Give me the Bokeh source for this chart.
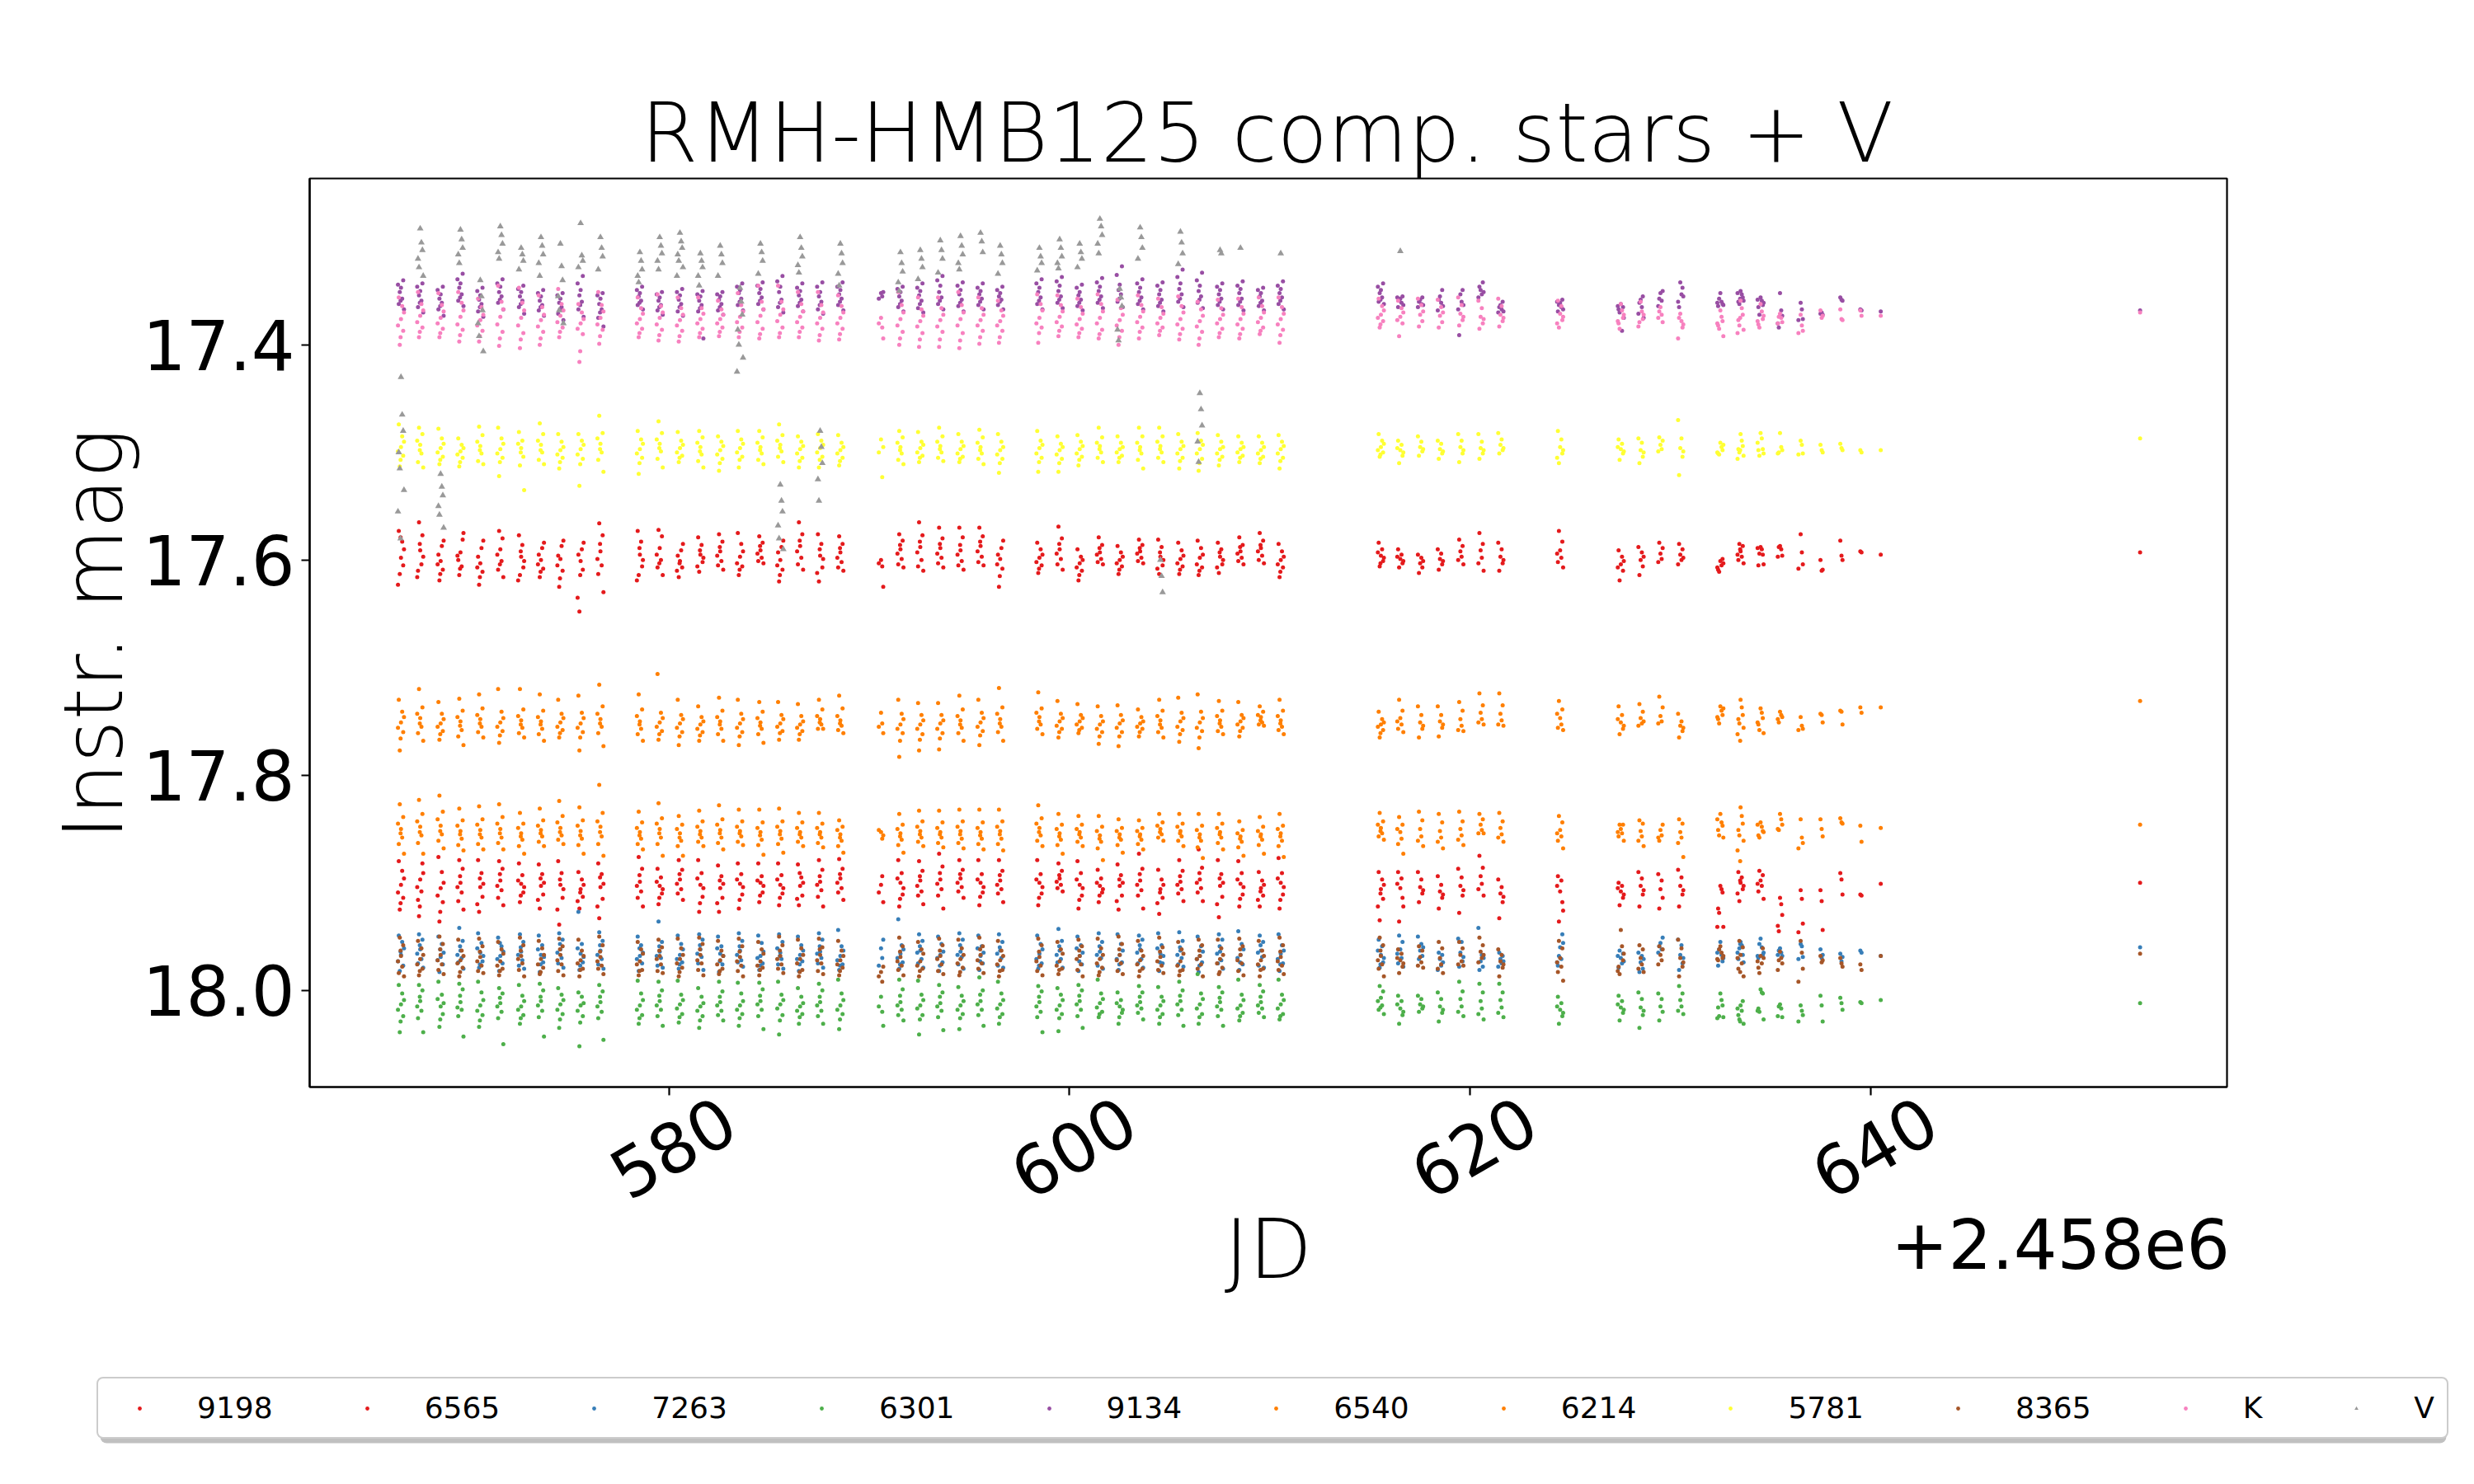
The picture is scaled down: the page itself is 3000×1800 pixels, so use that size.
import math
from bokeh.plotting import figure
from bokeh.models import (Range1d, FixedTicker, Legend, LegendItem, LinearAxis, BoxAnnotation,
                          PrintfTickFormatter, CustomJSTickFormatter)
from bokeh.embed import file_html
from bokeh.resources import INLINE

# ======================= DATA =======================
TITLE = "RMH-HMB125 comp. stars + V"
X_LABEL = "JD"
Y_LABEL = "Instr. mag"
JD_OFFSET_TEXT = "+2.458e6"          # x values below are JD - 2458000
X_TICKS = [580, 600, 620, 640]
Y_TICKS = [17.4, 17.6, 17.8, 18.0]

# observing nights (JD - 2458000, middle of the night's run)
NIGHT_JD = [
    566.62, 567.58, 568.60, 569.59, 570.58, 571.58, 572.62, 573.61, 574.58, 575.59, 576.58,
    578.55, 579.54, 580.55, 581.57, 582.56, 583.55, 584.57, 585.56, 586.55, 587.55, 588.56,
    590.59, 591.56, 592.55, 593.55, 594.56, 595.56, 596.54,
    598.50, 599.51, 600.51, 601.52, 602.51, 603.53, 604.54, 605.54, 606.51, 607.52, 608.54, 609.56, 610.55,
    615.55, 616.52, 617.51, 618.50, 619.52, 620.53, 621.52,
    624.50,
    627.53, 628.52, 629.51, 630.50,
    632.50, 633.51, 634.51, 635.48, 636.51, 637.50, 638.49, 639.49, 640.51,
    653.46,
]
# time of each exposure within a night, days from the night's middle
OBS_OFFSET = [0.00, 0.06, 0.11, -0.11, -0.06, 0.15, -0.15, -0.02]

SERIES_NAMES = ["9198", "6565", "7263", "6301", "9134", "6540", "6214", "5781", "8365", "K", "V"]
# reference magnitude of each star; nightly lists below are offsets in millimag
SERIES_BASE = [17.595, 17.900, 17.965, 18.012, 17.355, 17.750, 17.853, 17.495, 17.970, 17.372, 17.300]

MAG_9198 = [
    [3,-12,10,-22,18,-5,28,-16], [-4,9,-18,15,-30,2,21,-10], [6,-8,14,0,24,-13,9,18], [-2,11,-14,5,19,-20,1,13], [8,-6,16,2,28,-13,12,21], [-5,6,-15,14,-22,21,0,9], [2,-9,12,-18,19,6,24,-3], [5,-6,13,0,21,-11,9,16], [4,-8,15,1,30,-13,10,22], [6,-5,14,0,53,-11,40,19], [-3,10,-18,18,-29,35,4,-10],
    [0,-12,11,-22,19,5,24,-6], [-6,5,-17,12,-23,19,0,8], [6,-4,12,1,21,-10,15,8], [0,-9,7,-16,16,3,11,-4], [-3,6,-12,10,-19,14,1,-7], [2,-10,11,-20,19,-3,8,14], [-4,3,-11,6,-17,8,-1,-8], [5,-7,14,-2,25,-13,10,19], [-8,3,-19,9,-30,14,-3,-13], [1,-10,12,-19,25,4,17,-5], [-2,7,-10,12,-17,15,3,-6],
    [5,11,30,8], [-5,4,-13,9,-19,12,-1,-9], [-7,5,-18,11,-30,15,-2,-12], [-6,3,-15,8,-25,12,-1,-10], [-4,6,-16,10,-25,14,0,-9], [-8,2,-17,7,-25,10,-3,-12], [4,-6,13,0,30,-13,9,20],
    [3,-5,10,-11,17,0,7,13], [-5,4,-15,9,-26,14,-1,-10], [8,2,15,-5,24,5,12,19], [-2,4,-9,7,-16,9,0,-6], [5,-2,11,-8,18,2,8,14], [-3,3,-9,6,-14,8,-1,-6], [2,-7,10,-14,18,5,13,-2], [4,-4,11,-11,18,1,8,14], [3,-6,12,-13,19,0,9,15], [2,-5,9,-11,17,5,12,-2], [-3,3,-9,6,-16,9,-1,-7], [-6,1,-13,5,-20,8,-3,-9], [5,-3,12,-10,21,2,9,16],
    [1,-5,6,-11,11,3,-2,8], [4,0,8,-5,12,6,2], [8,3,12,0,17,6], [4,-1,9,-5,14,6], [-3,2,-8,5,-14,9], [-4,3,-10,8,-20,15], [2,-5,8,-11,15,5],
    [-4,3,-12,7,-22,12,-1],
    [9,2,15,-4,24,6,12], [5,-2,11,-7,19,2], [-1,4,-6,7,-11], [0,5,-5,9,-10,3],
    [6,10,4,14,16,8,12], [-3,2,-8,5,-10,8,0,-5], [-7,-5,0,10,-1,9,-6], [-8,-5,1,2,-7], [-19,-2,9,13], [5,15,14], [-13,1,5], [-3,-2], [0],
    [-2],
]

MAG_6565 = [
    [2,-11,14,-20,25,-4,9,19], [-3,8,-18,16,31,-9,4,22], [5,-10,18,-24,36,0,12,27], [0,9,-13,17,-21,25,4,-6], [4,-9,13,-21,27,1,20,-4], [-2,7,-13,14,-20,21,3,-8], [1,-7,9,-18,18,4,-2,12], [3,-8,11,-17,24,0,16,-4], [2,-9,14,-20,39,6,25,-3], [6,-3,13,-10,24,2,17,9], [4,-8,15,-18,33,1,22,-5],
    [-1,8,-13,14,-24,22,3,-7], [3,-5,10,-13,20,6,-1,14], [-3,6,-12,10,-21,16,1,-8], [2,-9,13,-21,27,5,-4,19], [5,-6,14,-16,27,1,19,-2], [1,-8,11,-18,24,4,-3,16], [0,-6,9,-18,18,3,-2,12], [2,-7,10,-18,21,5,-3,14], [3,-5,12,-17,21,0,15,-9], [-1,7,-12,13,-21,22,2,-6], [-4,5,-13,9,-22,16,0,-8],
    [2,-6,18,9], [0,-9,11,-21,22,5,-4,15], [-2,8,-11,12,-20,20,3,-6], [-3,6,-15,12,-27,24,1,-9], [-4,4,-12,8,-21,14,0,-8], [0,-8,9,-21,21,4,-3,13], [-2,6,-11,10,-21,18,2,-7],
    [0,-8,10,-21,21,4,-3,14], [-4,2,-11,5,-18,8,-1,-7], [2,-9,12,-20,24,5,-3,16], [3,-4,9,-12,18,6,0,12], [3,-7,12,-17,25,0,17,-3], [-2,7,-13,12,-27,24,2,-8], [6,-3,14,-12,29,2,19,9], [-1,6,-11,10,-21,17,2,-6], [-3,5,-14,9,-31,17,0,-9], [3,-8,13,-21,32,0,20,-4], [1,-9,11,-20,22,4,-3,15], [5,-2,12,-10,22,2,16,8], [0,-9,11,-23,24,4,-4,16],
    [6,-3,15,-10,35,2,22,10], [5,-4,14,-10,36,22,1], [4,-3,10,-10,18,7], [8,2,14,-6,24,11], [3,-5,12,-13,28,7], [-6,1,-14,6,-25,12], [10,4,18,-3,33,13],
    [8,-2,18,-6,36,26,3],
    [8,3,14,0,21,11,5], [3,-4,11,-10,22,7], [6,-2,14,-8,24], [3,-5,11,-12,22,7],
    [3,6,9,24,28,41,41], [0,-5,6,-10,17,3,10,-2], [-2,3,-7,8,-11,15,1], [14,20,30,40,45], [7,15,38,46], [7,17,44], [-9,-3,11], [11,12], [1],
    [0],
]

MAG_7263 = [
    [2,-10,12,-16,17,-4,8,-1], [-3,6,-12,10,-17,14,1,-7], [4,-8,11,-15,18,0,7,-3], [-2,5,-11,9,-23,15,2,-6], [0,-9,8,-18,14,3,-4,11], [3,-6,10,-14,17,-1,6,-9], [-1,7,-10,12,-17,15,2,-5], [2,-7,9,-16,18,4,-3,11], [-3,5,-12,10,-18,14,0,-8], [1,-8,9,-38,16,4,-4,12], [-2,6,-11,11,-19,15,2,-7],
    [3,-7,10,-15,17,0,6,-4], [-1,5,-10,12,-29,14,3,-6], [2,-8,9,-16,15,-3,6,11], [-3,4,-12,10,-17,16,1,-7], [1,-6,11,-15,18,3,-4,8], [-2,7,-11,9,-18,13,2,-6], [3,-9,10,-16,16,-1,5,12], [0,6,-10,11,-17,15,-4,3], [2,-7,8,-15,17,-2,6,11], [-1,5,-12,10,-18,14,1,-6], [3,-6,11,-21,16,-2,7,12],
    [-4,5,-12,12], [1,-7,9,-31,15,-3,5,11], [-2,6,-11,10,-17,14,0,-6], [2,-8,9,-15,17,-1,5,12], [-1,4,-12,11,-18,15,2,-7], [3,-6,10,-16,16,0,-4,8], [-2,5,-10,12,-17,14,1,-5],
    [1,-8,10,-16,15,-3,6,12], [-2,6,-11,9,-22,14,2,-6], [3,-7,11,-15,17,0,-4,8], [-1,5,-10,12,-18,15,2,-6], [2,-8,9,-17,16,-2,6,11], [-3,6,-12,10,-16,14,0,-7], [1,-7,10,-18,17,3,-4,9], [-2,5,-11,11,-19,13,2,-5], [3,-6,9,-15,18,-1,6,12], [-1,7,-12,10,-17,15,1,-6], [2,-8,11,-20,16,-3,5,9], [-2,4,-10,12,-16,14,0,-7], [1,-7,10,-17,17,-2,6,11],
    [2,-6,9,-12,14,5,-2,11], [-3,5,-10,10,-16,13,1], [-2,-8,3,-15,6,-5], [6,12,2,16,0,9], [0,-10,8,-13,13,4], [8,2,13,-23,16,5], [6,10,3,13,0,8],
    [-5,6,-17,12,3,-9,9],
    [5,10,1,14,-2,8,3], [9,3,15,0,18,6], [-9,-3,-14,0,-6], [2,-7,10,-12,16,5],
    [-10,2,8,12,-3,5,0], [-10,-7,2,6,-4,9,0,-8], [-13,-5,2,5,-8,0,3], [-4,0,3,2,-2], [-8,-6,4,6], [-3,5,2], [1,8,4], [-2,0], [3],
    [-5],
]

MAG_6301 = [
    [1,-9,12,-17,27,-3,6,17], [-2,7,-12,14,-17,27,3,-6], [3,-8,10,-20,22,0,-4,15], [-1,6,-13,12,-18,31,4,-7], [2,-10,11,-20,22,-3,7,16], [0,8,-9,14,-14,38,3,-5], [3,-7,11,-17,19,-2,6,14], [-2,7,-12,13,-18,31,2,-6], [1,-8,10,-14,23,-3,6,15], [2,-6,12,-10,40,0,7,18], [-1,8,-11,14,-17,34,3,-6],
    [2,-9,11,-21,19,-3,6,14], [-2,6,-12,12,-20,21,2,-7], [1,-8,10,-21,18,-3,5,13], [3,-6,12,-14,23,0,7,16], [-1,7,-11,11,-20,16,2,-6], [2,-9,10,-19,21,-2,6,14], [-2,6,-13,12,-19,24,1,-7], [1,-8,11,-20,29,-3,5,16], [3,-6,10,-14,19,0,7,13], [-1,7,-12,12,-18,19,2,-6], [2,-9,10,-22,24,-3,6,15],
    [-6,8,21,3], [-1,6,-13,11,-22,16,2,-7], [2,-8,11,-21,29,-3,5,15], [0,7,-10,13,-17,25,3,-6], [2,-7,10,-15,24,-2,6,14], [-2,6,-12,11,-24,21,1,-8], [1,-9,10,-20,19,-3,5,13],
    [-1,8,-11,13,-16,27,3,-6], [2,-8,10,-14,26,-3,6,14], [-2,6,-12,12,-17,23,1,-7], [0,-9,8,-22,13,-4,4,10], [3,-3,9,-10,19,6,0,13], [-1,5,-10,9,-16,15,2,-6], [2,-6,10,-15,19,-2,6,13], [-2,6,-12,11,-20,21,1,-7], [1,-9,10,-27,19,-4,5,13], [-1,6,-10,12,-15,21,3,-5], [2,-8,9,-22,16,-3,5,12], [-1,5,-11,9,-17,13,2,-6], [1,-8,10,-22,15,-3,5,12],
    [-5,2,-11,6,-16,10,-2,4], [5,-2,11,-7,19,8,1], [1,-4,5,-7,8,3], [3,-4,9,-10,17,6], [-4,3,-11,8,-20,12], [-2,5,-10,10,-18,15], [-3,4,-10,9,-18,13],
    [6,0,12,-6,19,9,3],
    [4,-2,9,-7,16,6,1], [4,-4,11,-10,23,7], [3,-4,8,-9,16], [-3,3,-9,7,-16,10],
    [-9,-3,2,4,12,13,14], [2,7,-2,11,15,19,5,17], [-13,-10,-9,5,8,15,7], [1,5,13,12,3], [2,7,11,17], [-7,2,17], [-5,0,6], [-1,0], [-3],
    [0],
]

MAG_9134 = [
    [-8,2,-15,7,-4,12,-11,4], [-5,4,-12,10,-1,15,-9,6], [-2,6,-9,12,2,18,-6,9], [-12,-2,-21,4,-8,9,-16,1], [-1,7,-8,14,3,19,-5,10], [-9,0,-16,6,-4,12,-12,3], [-4,4,-10,10,0,16,-7,7], [0,8,-6,13,4,18,-3,10], [2,10,-3,16,6,22,-1,12], [-6,5,-19,12,-1,19,-12,8], [2,12,-3,20,7,28,-1,15],
    [-3,4,-9,8,0,12,-6,6], [1,8,-4,13,4,17,-2,10], [-1,7,-7,14,3,18,-4,10], [0,8,-5,14,4,39,-2,11], [0,7,-4,13,3,17,-2,10], [-6,2,-12,8,-3,13,-9,5], [-7,1,-13,7,-3,12,-10,4], [-9,3,-19,10,-4,15,-14,6], [-5,3,-12,9,-1,14,-8,6], [-4,5,-13,12,0,16,-9,8], [-6,2,-13,8,-2,13,-9,5],
    [-3,0,-4,2], [-4,4,-9,10,0,14,-7,7], [-5,4,-12,11,-1,15,-8,7], [-10,1,-19,7,-4,12,-15,4], [-6,3,-13,9,-2,14,-10,6], [-5,2,-12,8,-2,12,-8,5], [-3,3,-9,8,0,12,-6,5],
    [-8,1,-16,7,-4,12,-12,4], [-10,0,-18,6,-5,11,-14,3], [-4,3,-11,9,-1,13,-8,6], [-9,0,-17,6,-5,11,-13,3], [-11,-2,-28,5,-6,10,-20,2], [-8,1,-16,7,-4,12,-12,4], [-6,3,-13,9,-2,14,-10,6], [-12,-2,-25,5,-7,10,-18,2], [-10,0,-22,6,-5,11,-15,3], [-6,2,-12,8,-2,12,-9,5], [-7,2,-14,8,-3,13,-10,5], [-3,4,-8,9,0,13,-6,6], [-7,1,-14,7,-3,12,-10,4],
    [-6,1,-12,5,-3,7,-9,3], [2,6,0,10,4,8,1], [3,7,1,10,5,8], [0,6,-6,13,3,9], [-2,5,-6,12,36,8], [-6,-2,-13,1,-9,-4], [8,12,5,15,10,14],
    [6,10,3,14,8,12,5],
    [7,32,10,12,15,20,9], [3,10,0,16,6,20], [-3,4,-5,9,2], [-13,-2,-8,5,10,0],
    [-3,5,7,9,2,8,6], [-5,-2,1,5,7,4,-3,2], [1,4,8,10,17,6,3], [-3,13,18,25,29], [6,12,21,22], [16,15,17], [1,3,4], [12,13], [14],
    [13],
]

MAG_6540 = [
    [1,-9,10,-20,27,-4,6,16], [-3,5,-13,11,-30,18,-7,2], [2,-7,9,-18,17,-2,5,12], [0,8,-10,14,-21,22,-4,4], [-2,5,-12,10,-25,15,-6,2], [1,-9,9,-30,20,-3,5,13], [-1,6,-11,11,-30,15,-5,3], [0,7,-10,12,-25,18,-4,3], [1,-7,8,-20,15,-3,5,11], [2,-8,10,-24,27,-3,6,15], [-2,5,-14,11,-34,23,-7,2],
    [0,7,-11,12,-25,18,-5,3], [1,-8,9,-44,17,-3,5,12], [2,-6,10,-20,22,-2,6,14], [3,-4,10,-14,18,0,7,13], [0,7,-10,12,-22,18,-4,3], [2,-7,10,-20,22,-2,6,14], [1,7,-9,12,-18,20,-3,4], [2,-6,9,-18,17,-2,5,11], [3,-5,9,-16,17,0,6,12], [-2,3,-11,7,-20,7,-5,1], [-1,4,-12,8,-24,11,-5,2],
    [-8,2,11,5], [3,-7,11,-20,33,-2,7,18], [3,-6,12,-17,27,-1,7,17], [2,-6,11,-17,26,-1,7,16], [-1,6,-11,11,-24,18,-5,3], [1,-8,9,-20,22,-3,5,13], [-2,5,-13,10,-31,18,-7,2],
    [-4,3,-12,7,-27,12,-8,0], [0,-7,7,-19,15,-3,4,10], [0,-6,6,-16,11,-3,3,8], [3,-5,10,-14,21,0,7,14], [2,-6,10,-15,23,-1,6,14], [2,-4,7,-11,14,0,5,10], [-1,6,-10,10,-20,15,-5,3], [0,-8,8,-22,19,-3,5,12], [1,-9,9,-25,25,-3,6,15], [-1,5,-10,9,-19,12,-5,2], [0,-6,6,-18,14,-3,3,9], [-4,1,-9,3,-14,4,-6,-1], [-1,5,-10,8,-20,12,-5,2],
    [3,-2,8,-9,15,1,5,11], [-3,3,-10,7,-20,10,0], [1,-6,7,-14,15,4], [0,-6,6,-14,14,3], [-2,4,-10,8,-18,9], [-8,-2,-15,1,-26,3], [-7,-1,-15,3,-26,4],
    [-3,3,-11,6,-19,8,-7],
    [1,-6,7,-14,12,4,-2], [-3,2,-9,4,-16,0], [-5,0,-13,2,-23], [4,0,9,-7,15,6],
    [-14,-10,-6,-2,2,-12,-4], [-20,-13,-6,-2,2,6,12,18], [-12,-8,-3,3,8,11,1], [-9,-6,-4,-2,1], [-4,4,7,8], [-7,-6,1], [-10,-9,3], [-13,-8], [-13],
    [-19],
]

MAG_6214 = [
    [-3,5,-14,11,-26,20,-8,1], [-5,3,-17,10,-30,20,-10,0], [-6,2,-19,8,-34,15,-12,-1], [-1,6,-11,12,-22,17,-6,2], [-2,5,-12,11,-24,16,-7,2], [-3,5,-14,10,-26,16,-8,1], [1,7,-8,13,-18,20,-4,4], [-2,4,-11,9,-22,13,-6,1], [-4,3,-15,7,-29,11,-9,0], [-1,6,-11,12,-23,20,-6,3], [-5,4,-18,11,-44,22,-10,0],
    [0,6,-9,11,-19,16,-4,3], [-3,5,-13,11,-27,22,-8,1], [1,8,-7,13,-15,22,-3,5], [-1,5,-10,9,-20,13,-5,2], [-2,5,-12,10,-25,16,-7,1], [-1,4,-10,9,-21,12,-5,1], [0,7,-9,12,-21,21,-4,3], [-1,6,-10,11,-22,19,-5,2], [0,5,-9,9,-18,13,-4,2], [0,5,-8,10,-18,14,-4,2], [2,8,-5,13,-11,19,-2,5],
    [0,6,3,-2], [1,7,-7,12,-17,19,-3,4], [-1,5,-10,9,-20,13,-5,2], [0,5,-9,10,-20,14,-4,2], [-1,6,-10,10,-21,15,-5,2], [0,6,-9,11,-21,16,-4,3], [-1,6,-10,11,-21,17,-5,2],
    [-4,3,-13,8,-25,13,-8,0], [1,7,-7,12,-17,20,-3,4], [0,5,-7,9,-15,13,-3,2], [3,9,-5,15,-15,26,-1,6], [2,7,-4,12,-12,19,-1,5], [2,7,-4,11,-11,16,-1,4], [-3,2,-9,5,-17,8,-6,0], [-1,4,-8,8,-17,13,-5,1], [2,8,-6,14,-17,24,-2,5], [0,5,-8,10,-17,16,-4,2], [4,9,-2,14,-10,22,1,6], [2,7,-5,12,-14,20,-1,4], [1,8,-6,13,-17,23,-3,4],
    [-4,1,-10,4,-18,7,-7,-1], [0,6,-7,11,-14,20,-3], [-3,4,-11,8,-19,13], [-1,5,-9,9,-17,15], [-3,3,-10,7,-19,12], [-7,-2,-12,1,-17,1], [-4,2,-10,5,-18,9],
    [-2,4,-9,8,-15,15,1],
    [-3,1,-7,4,-7,8,0], [-1,4,-8,8,-11,13], [-2,3,-7,5,8], [0,5,-8,10,-12,23],
    [-17,-9,-6,-2,3,5,-12], [-23,-15,-8,-2,3,8,17,27], [-9,-5,-1,3,5,0,-7], [-17,-12,-7,-3,-2], [-12,5,10,15], [-12,-3,4], [-13,-9,-8], [-6,9], [-4],
    [-7],
]

MAG_5781 = [
    [0,-10,8,-21,18,-5,4,12], [-2,6,-12,14,-18,19,-6,3], [1,-8,9,-17,16,-3,5,12], [4,-2,10,-8,18,1,7,14], [-1,6,-11,13,-19,16,-5,3], [2,-8,10,-18,27,-3,6,14], [1,-6,9,-14,17,40,-3,5], [-2,5,-12,12,-22,16,-6,3], [3,-5,10,-12,20,0,7,14], [2,-6,11,-12,36,-2,7,16], [-3,5,-13,12,-29,23,-8,2],
    [2,-7,10,-15,25,-3,6,15], [-3,4,-13,11,-24,19,-7,1], [1,-6,8,-14,14,-2,5,10], [0,7,-9,13,-15,19,-4,4], [3,-5,11,-10,22,-1,7,15], [1,-7,9,-15,19,-3,5,12], [0,6,-9,12,-15,16,-4,3], [-2,4,-11,9,-21,14,-6,1], [2,-5,10,-10,19,-1,6,13], [1,-6,9,-12,19,-2,5,12], [3,-4,10,-11,17,0,6,13],
    [-7,28,0,5], [0,6,-9,12,-15,16,-4,3], [1,-5,8,-14,14,-2,5,10], [-1,5,-10,10,-18,13,-5,2], [2,-5,9,-12,14,-1,6,11], [0,6,-9,11,-16,16,-4,3], [3,-5,11,-12,24,0,7,15],
    [1,-6,10,-15,23,-2,6,14], [3,-3,11,-10,23,0,7,15], [2,-5,9,-11,17,-1,6,12], [-1,5,-9,10,-18,14,-4,2], [2,-4,8,-10,14,0,5,10], [0,6,-10,12,-18,20,-4,3], [-1,5,-10,10,-18,14,-5,2], [2,-5,10,-12,20,-1,6,13], [2,-6,11,-13,22,-2,6,15], [2,-5,9,-11,17,0,6,12], [2,-4,8,-10,14,0,5,10], [3,-4,9,-10,15,0,6,11], [2,-5,10,-11,20,-1,6,13],
    [0,-6,5,-12,9,-3,3,7], [3,-2,8,-6,15,5,1], [0,-5,4,-10,8,2], [2,-3,6,-6,11,4], [0,-6,6,-12,14,3], [1,-5,6,-12,11,3], [-2,-7,3,-13,6,1],
    [0,-7,6,-15,15,3,10],
    [2,-3,6,-7,12,4,0], [3,-4,9,-8,15,5], [-2,2,-6,4,-9], [1,-8,9,-25,26,4],
    [-4,0,3,6,7,-2,5], [-12,-6,-1,2,5,8,11,3], [-13,-8,2,3,8,6,-4], [-13,0,3,6,5], [-6,-2,6,7], [-2,3,5], [-3,1,3], [3,5], [3],
    [-8],
]

MAG_8365 = [
    [-2,8,-12,14,-19,17,3,-7], [1,-9,10,-16,16,-3,6,12], [-3,6,-13,11,-20,15,2,-8], [2,-7,9,-17,17,-2,5,13], [-1,7,-11,12,-18,14,3,-6], [3,-8,10,-15,16,-4,7,12], [-2,5,-12,11,-19,17,1,-7], [1,-9,9,-16,15,-3,6,13], [-3,6,-11,12,-18,16,2,-8], [2,-7,10,-17,17,-2,5,11], [-1,7,-12,10,-20,15,3,-6],
    [3,-8,11,-15,16,-4,6,12], [-2,6,-10,12,-17,14,1,-7], [1,-9,9,-18,17,-3,5,13], [-3,5,-13,11,-19,16,2,-8], [2,-7,10,-16,15,-2,6,12], [-1,7,-11,12,-18,17,3,-6], [3,-8,9,-15,16,-4,7,11], [-2,6,-12,10,-20,14,1,-7], [1,-9,11,-17,17,-3,5,13], [-3,5,-10,12,-18,15,2,-8], [2,-7,9,-16,16,-2,6,12],
    [13,22,8,17], [-1,7,-11,11,-19,16,3,-6], [3,-8,10,-15,17,-4,7,12], [-2,6,-12,12,-18,15,1,-7], [1,-9,9,-17,16,-3,5,13], [-3,5,-11,10,-19,14,2,-8], [2,-7,11,-16,17,-2,6,12],
    [-1,7,-12,12,-18,16,3,-6], [3,-8,10,-15,15,-4,7,11], [-2,6,-11,11,-17,17,1,-7], [1,-9,9,-18,16,-3,5,13], [-3,5,-13,12,-20,15,2,-8], [2,-7,10,-16,17,-2,6,12], [-1,7,-10,11,-19,14,3,-6], [3,-8,11,-15,16,-4,7,12], [-2,6,-12,10,-17,17,1,-7], [1,-9,9,-17,15,-3,5,13], [-3,5,-11,12,-18,16,2,-8], [2,-7,10,-16,17,-2,6,11], [-1,7,-12,11,-19,15,3,-6],
    [-2,6,-12,10,-19,17,2,-7], [2,-4,8,-8,14,5,0], [-1,4,-7,7,-11,9], [0,6,-9,10,-15,14], [-3,3,-9,6,-15,7], [-6,0,-12,4,-19,-3], [3,-3,9,-8,17,6],
    [0,8,-9,13,-16,21,4],
    [-26,-11,2,8,15,-4,12], [0,6,-8,10,-12,13], [-3,2,-8,6,-11], [0,-9,8,-17,17,4],
    [-11,-5,0,2,-8,-2,1], [-3,5,-10,10,-16,17,0,13], [-2,5,-9,9,14,0,3], [-6,0,5,11,2], [-16,-5,10,22], [-2,4,2], [0,5,8], [6,11], [-2],
    [-4],
]

MAG_K = [
    [4,-8,15,-16,28,-2,10,21], [1,-10,12,-21,21,-4,7,16], [3,-9,13,-20,21,-3,8,17], [2,-11,14,-21,25,-4,9,19], [5,-7,15,-15,25,0,10,20], [2,-12,16,-27,29,-5,9,22], [3,-11,17,-25,31,-4,10,23], [5,-7,16,-18,28,0,11,22], [1,-10,12,-24,21,-4,7,16], [8,-2,18,-10,44,4,13,34], [3,-9,14,-21,27,-3,9,20],
    [4,-6,13,-16,21,-1,8,17], [3,-8,14,-19,24,-2,9,19], [5,-6,15,-16,25,0,10,20], [4,-6,13,-16,21,-1,8,17], [4,-5,12,-13,20,0,8,16], [2,-9,12,-20,21,-3,7,16], [1,-12,13,-27,22,-5,7,18], [0,-12,12,-27,21,-5,6,17], [2,-10,12,-21,21,-3,7,16], [3,-9,13,-21,24,-2,8,19], [3,-8,13,-18,23,-2,8,18],
    [3,12,22,8], [4,-9,16,-21,28,-2,10,22], [6,-5,17,-16,30,1,11,23], [5,-6,16,-16,30,0,11,23], [4,-9,17,-21,31,-2,10,24], [5,-6,15,-16,27,0,10,21], [6,-4,15,-13,26,1,10,21],
    [3,-10,12,-19,26,-4,8,17], [2,-9,11,-18,20,-3,7,15], [4,-7,13,-15,21,-1,9,17], [3,-10,14,-19,22,-3,8,18], [5,-6,15,-14,28,0,10,21], [2,-9,12,-18,22,-3,7,16], [3,-7,12,-15,19,-1,8,15], [4,-8,13,-17,23,-2,9,18], [6,-5,16,-12,28,1,11,22], [4,-6,13,-14,21,0,8,17], [4,-7,13,-15,22,-1,9,18], [3,-8,12,-16,18,-2,7,15], [4,-7,14,-16,26,-1,9,19],
    [0,-8,6,-15,12,-4,3,9], [2,-6,8,-13,20,-2,5], [0,-9,6,-15,11,-3], [1,-7,7,-14,12,-2], [-1,-9,5,-16,10,2], [2,-6,8,-13,13,4], [0,-8,6,-15,11,3],
    [-1,-8,5,-13,12,2,8],
    [-10,-4,3,8,13,0,6], [-12,-3,4,11,7,0], [-7,0,7,3,-3], [-1,6,12,22,3,9],
    [-4,2,6,10,13,20,8], [-13,-6,0,5,10,14,17,3], [-10,-3,4,9,12,1,6], [-1,3,7,8,2], [0,10,15,17], [-4,3,1], [-5,4,5], [-4,1], [1],
    [-2],
]

MAG_V = [
    [130,165,180,200,215,235,255,280], [-8,5,12,20,28,36], [220,232,240,250,258,270], [-7,2,10,16,24], [40,55,68,80,92,106], [-10,-2,6,14,20], [10,16,22,30], [0,8,16,24,36], [6,27,40,55,68,80], [-13,17,22,28], [0,10,18,30],
    [14,22,30,36,42], [0,8,15,22,30], [-4,4,10,16,22,28,36], [15,22,28,36,45], [8,16,24,36], [47,60,72,86,100,112,125], [6,14,22,34], [230,245,255,268,280,290], [0,10,18,26,33], [180,195,210,225,245], [6,15,24,34,45],
    [], [14,24,32,42,50], [12,20,28,39], [3,12,20,33], [-1,8,16,24,30], [-4,4,14], [8,16,24,34],
    [10,18,24,31], [2,10,18,24,29], [6,14,20,28], [-17,-10,-2,6,15], [48,56,64,86,96], [-9,0,10,20], [300,315,330], [-5,5,15,25], [145,160,175,190,209], [12,15], [10], [], [15],
    [], [13], [], [], [], [], [],
    [],
    [], [], [], [],
    [], [], [], [], [], [], [], [], [],
    [],
]

SERIES_MAGS = [MAG_9198, MAG_6565, MAG_7263, MAG_6301, MAG_9134, MAG_6540, MAG_6214, MAG_5781, MAG_8365, MAG_K, MAG_V]

# ======================= STYLE / LAYOUT =======================
SERIES_COLORS = ["#e41a1c", "#e41a1c", "#377eb8", "#4daf4a", "#984ea3", "#ff7f00", "#ff7f00",
                 "#ffff33", "#a65628", "#f781bf", "#999999"]
SERIES_MARKERS = ["circle"] * 10 + ["triangle"]
SERIES_SIZES = [5] * 10 + [8]

FONT = "DejaVu Sans"
PAGE_W = 3000
MAIN_H, LEGEND_H = 1660, 140
FRAME_LEFT, FRAME_RIGHT, FRAME_TOP, FRAME_BOTTOM = 375, 2700, 216, 1318
X_START, X_END = 562.06, 657.80
Y_TOP, Y_BOTTOM = 17.2454, 18.0899
PX_PER_DAY = (FRAME_RIGHT - FRAME_LEFT) / (X_END - X_START)
# the rotated tick labels hang from their right end; shift them so they sit centred on the ticks
LABEL_SHIFT_DAYS = 73 / PX_PER_DAY
OFFSET_TEXT_CENTER = X_END - 202 / PX_PER_DAY
# legend box in the legend strip (pixels from left / from top), and its drop shadow offset
LEG_LEFT, LEG_RIGHT, LEG_TOP, LEG_BOTTOM = 117, 2962, 13, 85
SHADOW_DX, SHADOW_DY = 4, 5


def expand(base, nightly):
    xs, ys = [], []
    for night, vals in zip(NIGHT_JD, nightly):
        for dt, v in zip(OBS_OFFSET, vals):
            xs.append(night + dt)
            ys.append(base + v / 1000.0)
    return xs, ys


def try_set(obj, attr, val, fallback):
    try:
        setattr(obj, attr, val)
    except Exception:
        setattr(obj, attr, fallback)


for name, m in zip(SERIES_NAMES, SERIES_MAGS):
    assert len(m) == len(NIGHT_JD), (name, len(m))

p = figure(width=PAGE_W, height=MAIN_H, output_backend="svg", toolbar_location=None,
           x_range=Range1d(X_START, X_END), y_range=Range1d(Y_BOTTOM, Y_TOP),
           x_axis_location=None,
           min_border_left=FRAME_LEFT, min_border_right=PAGE_W - FRAME_RIGHT,
           min_border_top=FRAME_TOP, min_border_bottom=MAIN_H - FRAME_BOTTOM,
           title=TITLE)
p.extra_x_ranges = {"ticklabels": Range1d(X_START - LABEL_SHIFT_DAYS, X_END - LABEL_SHIFT_DAYS)}
p.background_fill_color = "white"
p.border_fill_color = "white"
p.outline_line_color = "black"
p.outline_line_width = 2.2
p.grid.visible = False

p.title.text_font = FONT
p.title.text_font_size = "100px"
p.title.text_font_style = "normal"
p.title.text_color = "black"
p.title.align = "center"
try_set(p.title, "standoff", -7, 0)

# --- x axis: tick marks (minor ticks at the true positions) + rotated labels
xaxis = LinearAxis(x_range_name="ticklabels",
                   ticker=FixedTicker(ticks=X_TICKS,
                                      minor_ticks=[t - LABEL_SHIFT_DAYS for t in X_TICKS]))
xaxis.axis_line_color = "black"
xaxis.axis_line_width = 2.2
xaxis.major_tick_line_color = None
xaxis.major_tick_out = 10
xaxis.major_tick_in = 0
xaxis.minor_tick_line_color = "black"
xaxis.minor_tick_line_width = 2.2
xaxis.minor_tick_out = 10
xaxis.minor_tick_in = 0
xaxis.major_label_orientation = math.pi / 6
xaxis.major_label_text_font = FONT
xaxis.major_label_text_font_size = "83px"
xaxis.major_label_text_color = "black"
xaxis.major_label_standoff = 23
p.add_layout(xaxis, "below")

# --- offset text of the x axis ("+2.458e6") and the "JD" label on the same row
offset_axis = LinearAxis(ticker=FixedTicker(ticks=[OFFSET_TEXT_CENTER]),
                         formatter=CustomJSTickFormatter(code="return %r;" % JD_OFFSET_TEXT))
offset_axis.axis_line_color = None
offset_axis.major_tick_line_color = None
offset_axis.major_tick_out = 0
offset_axis.major_tick_in = 0
offset_axis.minor_tick_line_color = None
offset_axis.major_label_text_font = FONT
offset_axis.major_label_text_font_size = "83px"
offset_axis.major_label_text_color = "black"
try_set(offset_axis, "major_label_standoff", -11, 0)
offset_axis.axis_label = X_LABEL
offset_axis.axis_label_text_font = FONT
offset_axis.axis_label_text_font_size = "100px"
offset_axis.axis_label_text_font_style = "normal"
offset_axis.axis_label_text_color = "black"
try_set(offset_axis, "axis_label_standoff", -85, 0)
p.add_layout(offset_axis, "below")

# --- y axis
p.yaxis.axis_line_color = "black"
p.yaxis.axis_line_width = 2.2
p.yaxis.major_tick_line_color = "black"
p.yaxis.major_tick_line_width = 2.2
p.yaxis.major_tick_out = 10
p.yaxis.major_tick_in = 0
p.yaxis.minor_tick_line_color = None
p.yaxis.ticker = FixedTicker(ticks=Y_TICKS)
p.yaxis.formatter = PrintfTickFormatter(format="%.1f")
p.yaxis.major_label_text_font = FONT
p.yaxis.major_label_text_font_size = "83px"
p.yaxis.major_label_text_color = "black"
p.yaxis.major_label_standoff = 8
p.yaxis.axis_label = Y_LABEL
p.yaxis.axis_label_text_font = FONT
p.yaxis.axis_label_text_font_size = "100px"
p.yaxis.axis_label_text_font_style = "normal"
p.yaxis.axis_label_text_color = "black"
try_set(p.yaxis, "axis_label_standoff", -2, 0)

# --- legend strip underneath: a separate full-width canvas, so the legend is not clipped
pl = figure(width=PAGE_W, height=LEGEND_H, output_backend="svg", toolbar_location=None,
            x_range=Range1d(0, PAGE_W), y_range=Range1d(LEGEND_H, 0),
            x_axis_location=None, y_axis_location=None, title=None,
            min_border_left=0, min_border_right=0, min_border_top=0, min_border_bottom=0)
pl.outline_line_color = None
pl.grid.visible = False
pl.background_fill_color = "white"
pl.border_fill_color = "white"

# drop shadow of the legend frame (drawn first, the opaque legend box covers most of it)
shadow = BoxAnnotation(left=LEG_LEFT + SHADOW_DX, right=LEG_RIGHT + SHADOW_DX,
                       top=LEG_TOP + SHADOW_DY, bottom=LEG_BOTTOM + SHADOW_DY,
                       fill_color="#8c8c8c", fill_alpha=0.55, line_color=None)
try:
    shadow.border_radius = 8
except Exception:
    pass
pl.add_layout(shadow)

items = []
for name, base, nightly, color, marker, size in zip(SERIES_NAMES, SERIES_BASE, SERIES_MAGS,
                                                    SERIES_COLORS, SERIES_MARKERS, SERIES_SIZES):
    xs, ys = expand(base, nightly)
    p.scatter(xs, ys, marker=marker, size=size, fill_color=color, line_color=None)
    # legend key with the same style (a single NaN point: nothing drawn on the canvas itself)
    key = pl.scatter([math.nan], [math.nan], marker=marker, size=size,
                     fill_color=color, line_color=None)
    items.append(LegendItem(label=name, renderers=[key]))

legend = Legend(items=items, orientation="horizontal", location=(LEG_LEFT, LEGEND_H - LEG_BOTTOM),
                label_text_font=FONT, label_text_font_size="36px", label_text_color="black",
                glyph_width=70, glyph_height=12, label_standoff=35, spacing=79, padding=15, margin=0,
                border_line_color="#cccccc", border_line_width=2, border_line_alpha=1.0,
                background_fill_color="white", background_fill_alpha=1.0)
try:
    legend.border_radius = 8
except Exception:
    pass
pl.add_layout(legend)

open("out.html", "w").write(file_html((p, pl), INLINE))
